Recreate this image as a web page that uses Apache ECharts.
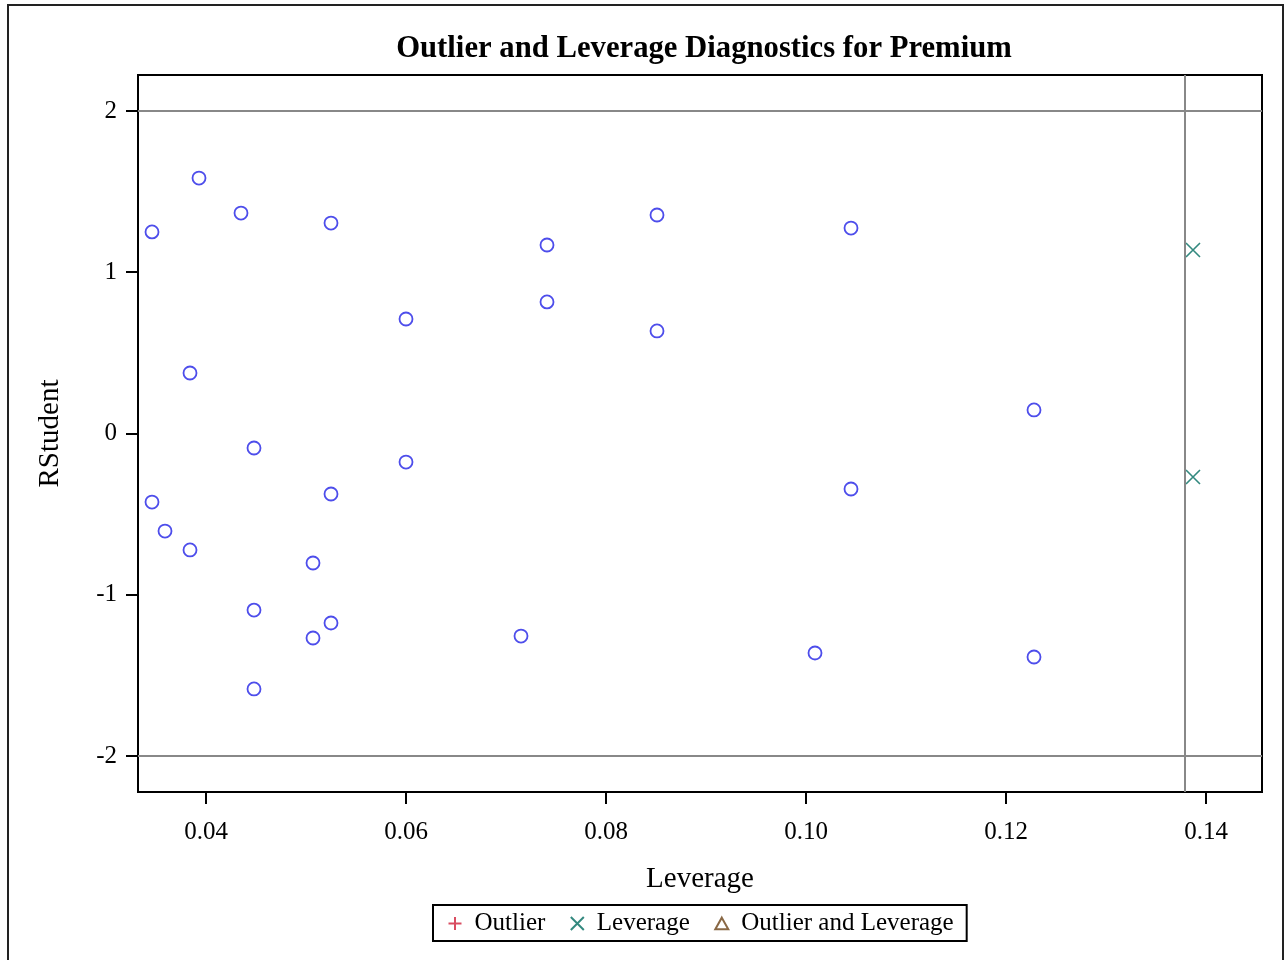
<!DOCTYPE html>
<html>
<head>
<meta charset="utf-8">
<script src="https://cdn.jsdelivr.net/npm/echarts@6/dist/echarts.min.js"></script>
<style>
  html, body { margin: 0; padding: 0; background: #fff; }
  #chart { width: 1285px; height: 960px; }
</style>
</head>
<body>
<div id="chart"></div>
<script>
// observations (leverage, rstudent)
const obsLeverage = [0.0346, 0.0393, 0.0435, 0.0525, 0.0741, 0.0851, 0.1045, 0.0741, 0.0600,
  0.0851, 0.0384, 0.1228, 0.0448, 0.0600, 0.0525, 0.1045, 0.0346, 0.0359, 0.0384, 0.0507,
  0.0448, 0.0525, 0.0507, 0.0715, 0.1009, 0.1228, 0.0448]
const obsRStudent = [1.250, 1.584, 1.367, 1.305, 1.169, 1.355, 1.274, 0.816, 0.710,
  0.636, 0.375, 0.146, -0.090, -0.177, -0.375, -0.344, -0.425, -0.605, -0.722, -0.803,
  -1.095, -1.175, -1.268, -1.256, -1.361, -1.386, -1.584]

// high leverage points
const levLeverage = [0.1387, 0.1387]
const levRStudent = [1.138, -0.270]

// cutoffs
const rstudentCutoffs = [2, -2]
const leverageCutoff = 0.1379

const xTicks = [0.04, 0.06, 0.08, 0.10, 0.12, 0.14]
const yTicks = [-2, -1, 0, 1, 2]

const font = 'Liberation Serif'

let chart = echarts.init(document.getElementById('chart'))

const pairs = (xs, ys) => xs.map((x, i) => [x, ys[i]])

const plusPath = 'path://M5,0L5,10M0,5L10,5'
const crossPath = 'path://M0,0L10,10M10,0L0,10'
const triPath = 'path://M5,0L10,9L0,9Z'

const option = {
  animation: false,
  backgroundColor: '#fff',
  title: {
    text: 'Outlier and Leverage Diagnostics for Premium',
    left: 699,
    textAlign: 'center',
    top: 29,
    textStyle: { fontFamily: font, fontSize: 30.7, fontWeight: 'bold', color: '#000' }
  },
  graphic: [{
    type: 'rect',
    shape: { x: 8, y: 5, width: 1275, height: 1000 },
    style: { fill: 'none', stroke: '#222', lineWidth: 2 },
    silent: true
  }],
  grid: {
    left: 138, right: 23, top: 75, bottom: 168,
    show: true, borderColor: '#000', borderWidth: 2
  },
  legend: {
    left: 433, top: 905,
    padding: [6, 13, 5, 13],
    itemWidth: 13, itemHeight: 13, itemGap: 23,
    borderColor: '#000', borderWidth: 2,
    textStyle: { fontFamily: font, fontSize: 25, color: '#000', padding: [0, 0, 0, 8] },
    data: ['Outlier', 'Leverage', 'Outlier and Leverage']
  },
  xAxis: {
    type: 'value',
    min: 0.0332, max: 0.1456,
    name: 'Leverage',
    nameLocation: 'middle',
    nameGap: 73,
    nameTextStyle: { fontFamily: font, fontSize: 29, color: '#000' },
    splitLine: { show: false },
    axisLine: { onZero: false, lineStyle: { color: '#000', width: 2 } },
    axisTick: { length: 12, lineStyle: { color: '#000', width: 2 }, customValues: xTicks },
    axisLabel: {
      customValues: xTicks, margin: 28,
      fontFamily: font, fontSize: 25, color: '#000',
      formatter: v => v.toFixed(2)
    }
  },
  yAxis: {
    type: 'value',
    min: -2.223, max: 2.223,
    name: 'RStudent',
    nameLocation: 'middle',
    nameGap: 73,
    nameTextStyle: { fontFamily: font, fontSize: 29, color: '#000' },
    splitLine: { show: false },
    axisLine: { onZero: false, lineStyle: { color: '#000', width: 2 } },
    axisTick: { length: 12, lineStyle: { color: '#000', width: 2 }, customValues: yTicks },
    axisLabel: {
      customValues: yTicks, margin: 21,
      fontFamily: font, fontSize: 25, color: '#000'
    }
  },
  series: [
    {
      name: 'Observations',
      type: 'scatter',
      symbol: 'circle',
      symbolSize: 13,
      itemStyle: { color: 'rgba(255,255,255,0)', borderColor: '#2020e6', borderWidth: 1.8 },
      data: pairs(obsLeverage, obsRStudent),
      markLine: {
        silent: true,
        symbol: 'none',
        precision: 4,
        label: { show: false },
        lineStyle: { color: '#888', width: 2, type: 'solid' },
        data: rstudentCutoffs.map(v => ({ yAxis: v })).concat([{ xAxis: leverageCutoff }])
      },
      z: 3
    },
    {
      name: 'Outlier',
      type: 'scatter',
      symbol: plusPath,
      symbolSize: 13,
      itemStyle: { color: 'none', borderColor: '#d0203a', borderWidth: 1.5 },
      data: []
    },
    {
      name: 'Leverage',
      type: 'scatter',
      symbol: crossPath,
      symbolSize: 14,
      itemStyle: { color: 'none', borderColor: '#006b5f', borderWidth: 1.6 },
      data: pairs(levLeverage, levRStudent),
      z: 4
    },
    {
      name: 'Outlier and Leverage',
      type: 'scatter',
      symbol: triPath,
      symbolSize: 13,
      itemStyle: { color: 'none', borderColor: '#6b4216', borderWidth: 1.5 },
      data: []
    }
  ]
}

chart.setOption(option)
</script>
</body>
</html>
